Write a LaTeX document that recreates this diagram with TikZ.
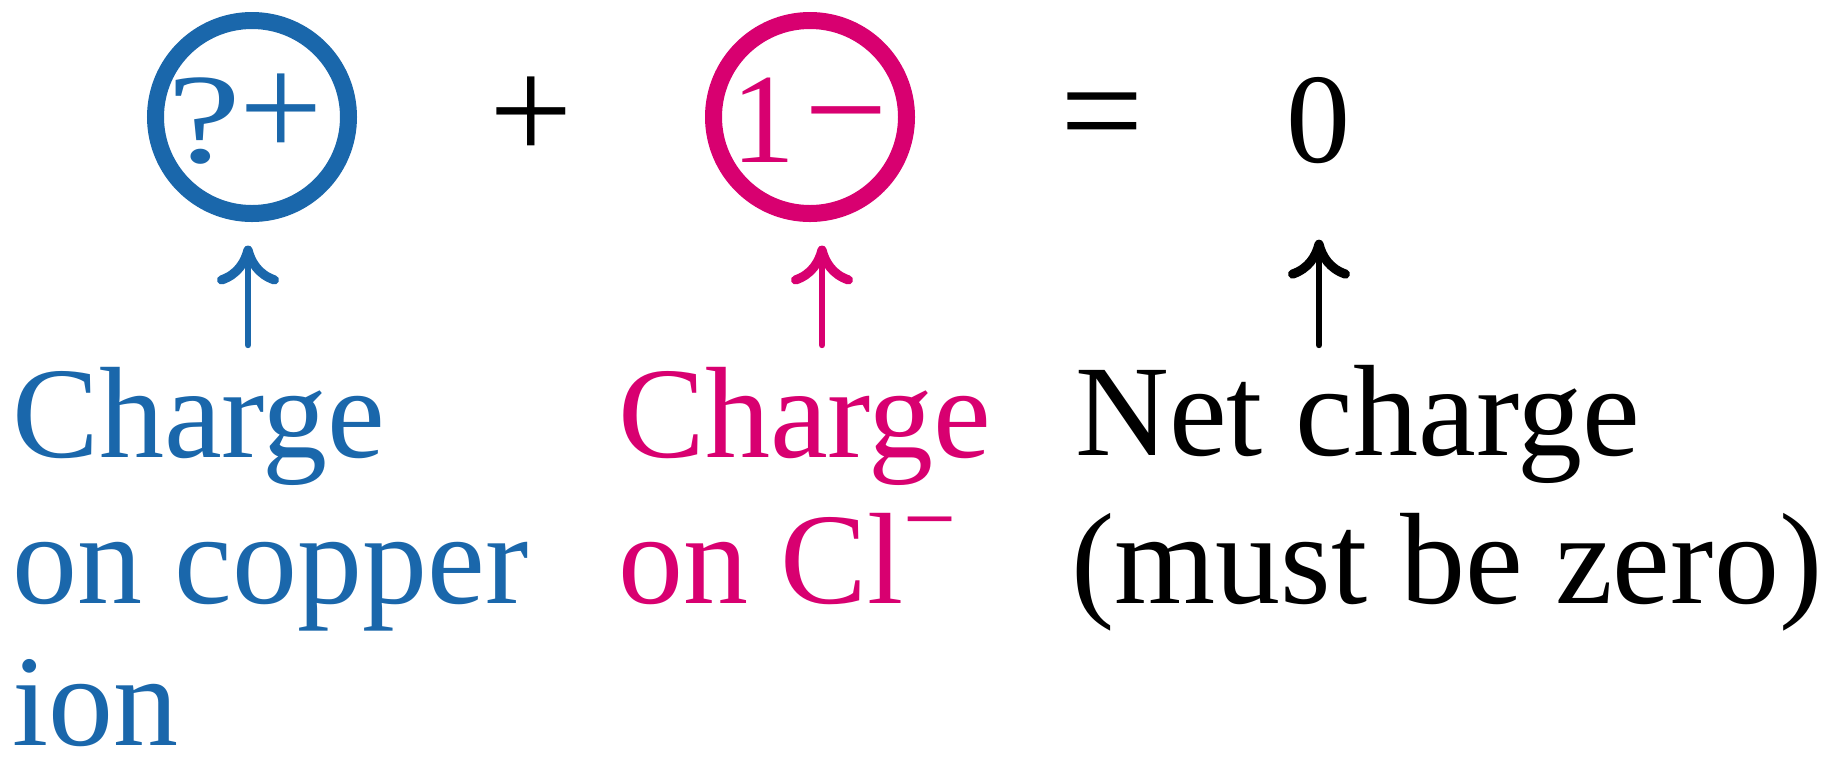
\documentclass[tikz,border=0pt]{standalone}
\usepackage{fontspec}
\setmainfont{Liberation Serif}
\usetikzlibrary{arrows.meta}
\definecolor{cublue}{RGB}{26,103,171}
\definecolor{clpink}{RGB}{216,0,112}
\begin{document}
\begin{tikzpicture}[x=0.5pt,y=-0.5pt,
  lbl/.style={inner sep=0pt, anchor=base west, font=\fontsize{65}{72}\selectfont},
  digit/.style={inner sep=0pt, anchor=base, font=\fontsize{64}{70}\selectfont},
  opsym/.style={inner sep=0pt, anchor=base, font=\fontsize{74}{80}\selectfont},
  ring/.style={circle, line width=8.5pt, minimum size=96.5pt, inner sep=0pt},
  arr/.style={line width=3.2pt, line cap=round,
    -{Computer Modern Rightarrow[length=19.5pt,width=31pt,line width=4.6pt]}}
]
\fill[white] (0,0) rectangle (1831,757);
\useasboundingbox (0,0) rectangle (1831,757);

% equation line
\node[ring, draw=cublue] (cu) at (252,117) {};
\node[digit, text=cublue] (qm) at (204,162) {\scalebox{1.3}[1.0]{?}};
\node[opsym, text=cublue] (qp) at (281,157.5) {+};
\node[opsym] (plus) at (531,160.5) {+};
\node[ring, draw=clpink] (cl) at (810,117) {};
\node[digit, text=clpink] (one) at (763,162) {1};
\node[opsym, text=clpink] (mi) at (846,159) {−};
\node[opsym] (eq) at (1102,160) {=};
\node[digit] (zero) at (1318,162) {0};

% labels
\node[lbl, text=cublue] (cu1) at (12,457) {Charge};
\node[lbl, text=cublue] (cu2) at (12,603) {on copper};
\node[lbl, text=cublue] (cu3) at (12,745) {ion};
\node[lbl, text=clpink] (cl1) at (618,457) {Charge};
\node[lbl, text=clpink] (cl2) at (618,603) {on Cl\raisebox{26.5pt}{\fontsize{47}{50}\selectfont −}};
\node[lbl] (nt1) at (1075,455) {Net charge};
\node[lbl] (nt2) at (1071,603) {(must be zero)};

% arrows
\coordinate (cuT) at (248,345);
\coordinate (clT) at (822,345);
\coordinate (ntT) at (1319,345);
\draw[arr, cublue, shorten >=11.75pt] (cuT) -- (cuT |- cu.south);
\draw[arr, clpink, shorten >=11.75pt] (clT) -- (clT |- cl.south);
\draw[arr, black, shorten >=38pt] (ntT) -- (ntT |- zero.south);
\end{tikzpicture}
\end{document}
